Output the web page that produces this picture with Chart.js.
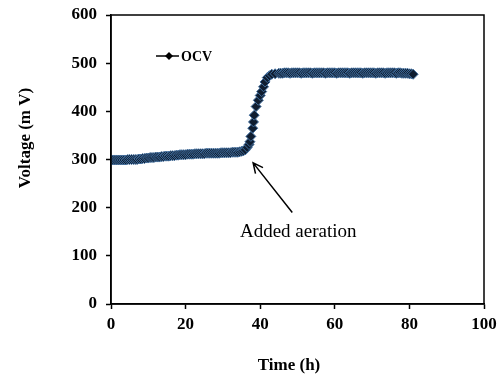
<!DOCTYPE html>
<html>
<head>
<meta charset="utf-8">
<script src="https://cdn.jsdelivr.net/npm/chart.js@4/dist/chart.umd.min.js"></script>
<style>
    html, body { margin: 0; padding: 0; background: #fff; }
    #wrap { width: 502px; height: 378px; }
</style>
</head>
<body>
<div id="wrap"><canvas id="myChart"></canvas></div>
<script>
const timeHours = [
    0, 0.5, 1, 1.5, 2, 2.5, 3, 3.5, 4, 4.5,
    5, 5.5, 6, 6.5, 7, 7.5, 8, 8.5, 9, 9.5,
    10, 10.5, 11, 11.5, 12, 12.5, 13, 13.5, 14, 14.5,
    15, 15.5, 16, 16.5, 17, 17.5, 18, 18.5, 19, 19.5,
    20, 20.5, 21, 21.5, 22, 22.5, 23, 23.5, 24, 24.5,
    25, 25.5, 26, 26.5, 27, 27.5, 28, 28.5, 29, 29.5,
    30, 30.5, 31, 31.5, 32, 32.5, 33, 33.5, 34, 34.5,
    35, 35.5, 36,
    36.5, 37, 37.25, 37.5, 38, 38.2, 38.4, 38.9, 39.5, 40, 40.4, 40.9, 41.3, 41.9, 42.5, 43.1, 44, 45,
    45.5, 46, 46.5, 47, 47.5, 48, 48.5, 49, 49.5, 50,
    50.5, 51, 51.5, 52, 52.5, 53, 53.5, 54, 54.5, 55,
    55.5, 56, 56.5, 57, 57.5, 58, 58.5, 59, 59.5, 60,
    60.5, 61, 61.5, 62, 62.5, 63, 63.5, 64, 64.5, 65,
    65.5, 66, 66.5, 67, 67.5, 68, 68.5, 69, 69.5, 70,
    70.5, 71, 71.5, 72, 72.5, 73, 73.5, 74, 74.5, 75,
    75.5, 76, 76.5, 77, 77.5, 78, 78.5, 79, 79.5, 80,
    80.5, 81
];
const ocvMilliVolts = [
    299, 299, 299, 299, 299, 299, 299, 299, 299, 300,
    300, 300, 300, 300, 300, 301, 301, 302, 302, 303,
    303, 304, 304, 304, 305, 305, 305, 306, 306, 307,
    307, 307, 308, 308, 308, 309, 309, 310, 310, 310,
    310, 311, 311, 311, 311, 312, 312, 312, 312, 312,
    312, 313, 313, 313, 313, 313, 313, 313, 313, 314,
    314, 314, 314, 314, 314, 315, 315, 315, 315, 316,
    317, 318, 320,
    325, 331, 337, 348, 365, 378, 392, 410, 423, 433, 441, 451, 461, 470, 474, 477, 478, 479,
    479, 479, 480, 480, 480, 479, 480, 480, 480, 480,
    480, 479, 480, 480, 480, 480, 480, 479, 480, 480,
    480, 480, 480, 480, 479, 480, 480, 480, 480, 480,
    479, 480, 480, 480, 480, 480, 480, 479, 480, 480,
    480, 480, 480, 480, 479, 480, 480, 480, 480, 480,
    480, 479, 480, 480, 480, 480, 479, 480, 480, 480,
    480, 480, 479, 480, 480, 479, 479, 479, 479, 478,
    478, 477
];
const xTicks = [0, 20, 40, 60, 80, 100];
const yTicks = [0, 100, 200, 300, 400, 500, 600];
const seriesName = 'OCV';
const xTitle = 'Time (h)';
const yTitle = 'Voltage (m V)';
const noteText = 'Added aeration';

const serif = "'Liberation Serif', 'Times New Roman', serif";

// arrow + label, in data units
const note = { tipX: 38.1, tipY: 293, tailX: 48.6, tailY: 190, textX: 50.2, textY: 150 };

const points = timeHours.map((t, i) => ({ x: t, y: ocvMilliVolts[i] }));

const decorations = {
    id: 'decorations',
    afterDraw(chart) {
        const { ctx, chartArea: a, scales: { x, y } } = chart;
        ctx.save();

        // frame
        ctx.strokeStyle = '#000';
        ctx.lineWidth = 1.5;
        ctx.strokeRect(a.left, a.top, a.right - a.left, a.bottom - a.top);

        // axis titles
        ctx.fillStyle = '#000';
        ctx.font = `bold 17px ${serif}`;
        ctx.textAlign = 'center';
        ctx.textBaseline = 'middle';
        ctx.fillText(xTitle, 289, 366);
        ctx.save();
        ctx.translate(26, 138);
        ctx.rotate(-Math.PI / 2);
        ctx.fillText(yTitle, 0, 0);
        ctx.restore();

        // legend
        const ly = a.top + 41;
        ctx.beginPath();
        ctx.moveTo(a.left + 45, ly);
        ctx.lineTo(a.left + 68, ly);
        ctx.lineWidth = 1.5;
        ctx.stroke();
        ctx.beginPath();
        ctx.moveTo(a.left + 58, ly - 4);
        ctx.lineTo(a.left + 62, ly);
        ctx.lineTo(a.left + 58, ly + 4);
        ctx.lineTo(a.left + 54, ly);
        ctx.closePath();
        ctx.fill();
        ctx.font = `bold 14px ${serif}`;
        ctx.textAlign = 'left';
        ctx.fillText(seriesName, a.left + 70, ly + 1);

        // annotation arrow
        const tx = x.getPixelForValue(note.tipX), ty = y.getPixelForValue(note.tipY);
        const sx = x.getPixelForValue(note.tailX), sy = y.getPixelForValue(note.tailY);
        const ang = Math.atan2(ty - sy, tx - sx);
        ctx.lineWidth = 1.5;
        ctx.beginPath();
        ctx.moveTo(sx, sy);
        ctx.lineTo(tx, ty);
        ctx.moveTo(tx - 11 * Math.cos(ang - 0.45), ty - 11 * Math.sin(ang - 0.45));
        ctx.lineTo(tx, ty);
        ctx.lineTo(tx - 11 * Math.cos(ang + 0.45), ty - 11 * Math.sin(ang + 0.45));
        ctx.stroke();

        ctx.font = `19px ${serif}`;
        ctx.textAlign = 'center';
        ctx.fillText(noteText, x.getPixelForValue(note.textX), y.getPixelForValue(note.textY));
        ctx.restore();
    }
};

new Chart(document.getElementById('myChart'), {
    type: 'scatter',
    data: {
        datasets: [{
            label: seriesName,
            data: points,
            showLine: true,
            borderColor: '#000',
            borderWidth: 1,
            pointStyle: 'rectRot',
            pointRadius: 5,
            pointBackgroundColor: '#0f1d30',
            pointBorderColor: '#3f6c9c',
            pointBorderWidth: 1
        }]
    },
    options: {
        responsive: true,
        maintainAspectRatio: false,
        animation: false,
        layout: { padding: { left: 0, top: 15, right: 18, bottom: 0 } },
        plugins: {
            legend: { display: false },
            tooltip: { enabled: false }
        },
        scales: {
            x: {
                type: 'linear',
                min: 0,
                max: 100,
                afterBuildTicks: (scale) => { scale.ticks = xTicks.map(v => ({ value: v })); },
                afterFit: (scale) => {
                    scale.height = 74;
                    scale.paddingLeft = 0;
                    scale.paddingRight = 0;
                },
                grid: { drawOnChartArea: false, color: '#000', tickLength: 5, tickWidth: 1.5 },
                border: { color: '#000', width: 1.5 },
                ticks: { color: '#000', padding: 5, font: { family: serif, size: 17, weight: 'bold' } }
            },
            y: {
                min: 0,
                max: 600,
                afterBuildTicks: (scale) => { scale.ticks = yTicks.map(v => ({ value: v })); },
                afterFit: (scale) => {
                    scale.width = 111;
                    scale.paddingTop = 0;
                    scale.paddingBottom = 0;
                },
                grid: { drawOnChartArea: false, color: '#000', tickLength: 5, tickWidth: 1.5 },
                border: { color: '#000', width: 1.5 },
                ticks: { color: '#000', padding: 9, font: { family: serif, size: 17, weight: 'bold' } }
            }
        }
    },
    plugins: [decorations]
});
</script>
</body>
</html>
